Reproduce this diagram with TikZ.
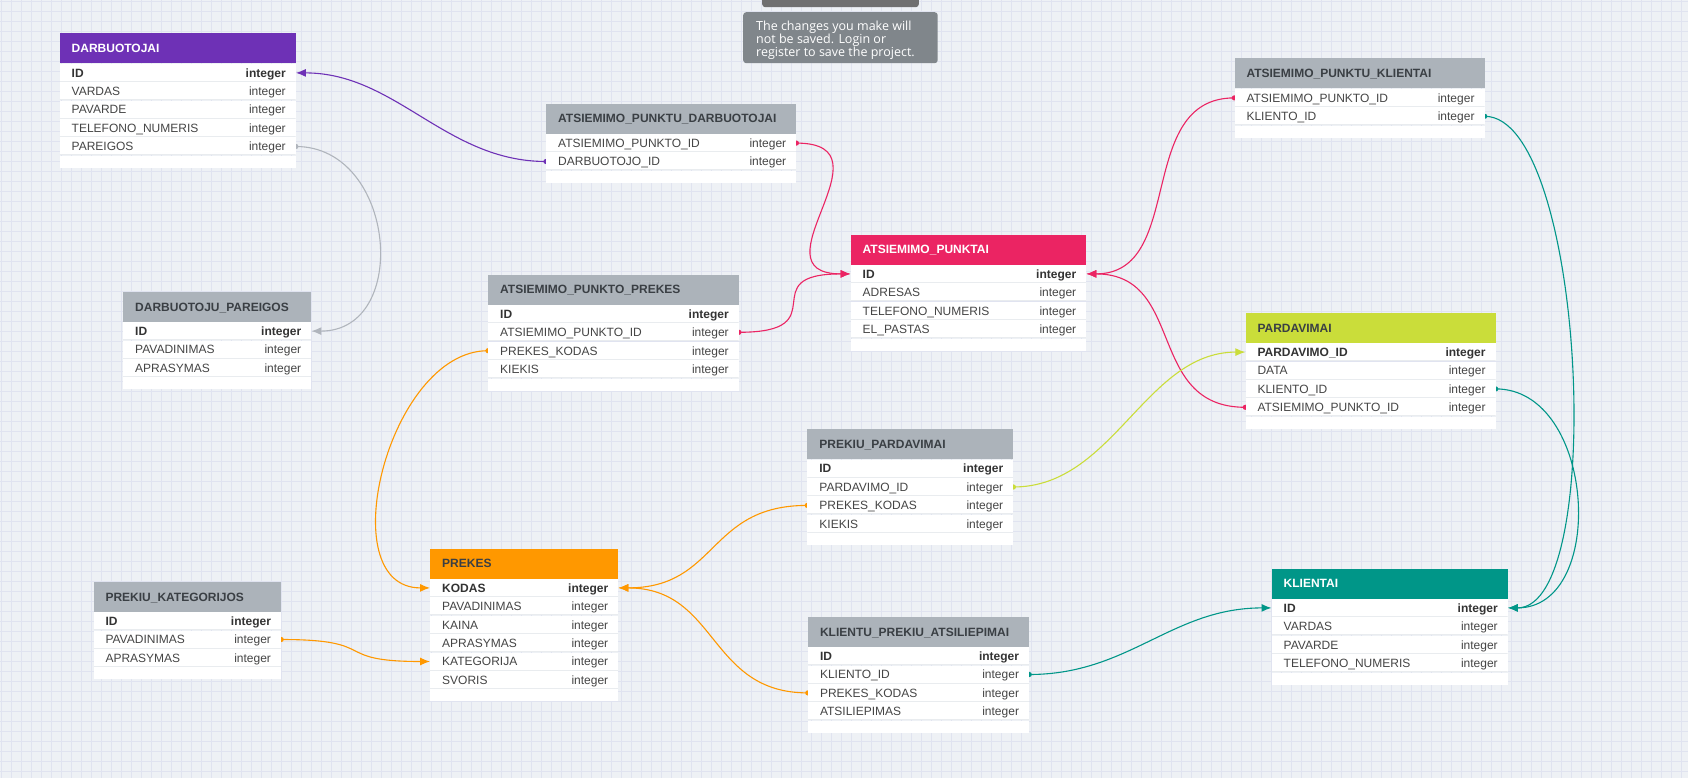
\documentclass[tikz,border=0pt]{standalone}
\usepackage{fontspec}
\setmainfont{Liberation Sans}
\newfontfamily\tipfont{Open Sans}
\usetikzlibrary{arrows.meta}
\definecolor{bgc}{HTML}{EEF1F5}
\definecolor{gridc}{HTML}{E0E3F0}
\definecolor{hgray}{HTML}{ACB3BA}
\definecolor{hpurple}{HTML}{6E31B6}
\definecolor{hpink}{HTML}{EB2463}
\definecolor{hlime}{HTML}{CADD3A}
\definecolor{horange}{HTML}{FF9800}
\definecolor{hteal}{HTML}{009688}
\definecolor{lgray}{HTML}{B0B5BC}
\definecolor{txt}{HTML}{454545}
\definecolor{txtb}{HTML}{333333}
\definecolor{htxt}{HTML}{3A3F44}
\definecolor{sepc}{HTML}{E9ECEF}
\definecolor{tipc}{HTML}{80868B}
\definecolor{tipbarc}{HTML}{707070}
\pgfdeclarelayer{gridlayer}
\pgfdeclarelayer{edgelayer}
\pgfsetlayers{gridlayer,edgelayer,main}
\tikzset{
  hdr/.style={anchor=north west, inner sep=0pt, minimum height=30pt,
    text height=10.3pt, text depth=1.7pt, font=\bfseries\fontsize{12}{14}\selectfont},
  rowbox/.style={anchor=north west, inner sep=0pt, minimum height=18pt,
    text height=10.3pt, text depth=1.7pt, fill=white, font=\fontsize{12}{14}\selectfont,
    path picture={\draw[sepc, line width=1pt]
      ([yshift=0.5pt]path picture bounding box.south west) --
      ([yshift=0.5pt]path picture bounding box.south east);}},
  endbox/.style={anchor=north west, inner sep=0pt, minimum height=12pt, fill=white},
  con/.style={draw=#1, line width=1.1pt, -{Latex[length=10pt,width=8pt]}},
  dot/.style={fill=#1},
  tiptext/.style={anchor=base west, inner sep=0pt, text=white,
    font=\tipfont\fontsize{12.5}{13}\selectfont}
}
% #1 id, #2 x, #3 y, #4 width, #5 header fill, #6 header text colour, #7 title, #8 rows
\newcommand\ertable[8]{%
  \node[hdr, fill=#5, text=#6] (#1-0) at (#2,#3) {\makebox[#4pt][l]{\hspace*{12pt}#7}};
  \foreach \nm/\isb [count=\i] in {#8} {%
    \pgfmathtruncatemacro\j{\i-1}%
    \ifnum\isb=1 \def\rf{\bfseries\color{txtb}}\else\def\rf{\color{txt}}\fi
    \node[rowbox] (#1-\i) at (#1-\j.south west)
      {\makebox[#4pt][l]{\hspace*{12pt}\rf\nm\hfill integer\hspace*{10pt}}};
    \xdef\lastrow{\i}%
  }
  \node[endbox] (#1-end) at (#1-\lastrow.south west) {\makebox[#4pt]{}};
}
\begin{document}
\begin{tikzpicture}[x=1pt,y=-1pt]
\useasboundingbox (0,0) rectangle (1688,778);
\begin{pgfonlayer}{gridlayer}
  \fill[bgc] (0,0) rectangle (1688,778);
  \foreach \x in {1.7,11.7,...,1688} \draw[gridc, line width=0.7pt] (\x,0) -- (\x,778);
  \foreach \y in {1.7,11.7,...,778} \draw[gridc, line width=0.7pt] (0,\y) -- (1688,\y);
\end{pgfonlayer}

% tooltip
\node[fill=tipbarc, rounded corners=3pt, anchor=north west, inner sep=0pt,
  minimum width=156.6pt, minimum height=12pt] (tipbar) at (762,-5) {};
\node[fill=tipc, rounded corners=3pt, anchor=north west, inner sep=0pt,
  minimum width=194.5pt, minimum height=51pt] (tip) at (743,12) {};
\node[tiptext] (tip1) at (756,31) {The changes you make will};
\node[tiptext] (tip2) at (756,44) {not be saved. Login or};
\node[tiptext] (tip3) at (756,57) {register to save the project.};

% tables
\ertable{d}{59.5}{33.3}{236}{hpurple}{white}{DARBUOTOJAI}
  {ID/1,VARDAS/0,PAVARDE/0,TELEFONO\_NUMERIS/0,PAREIGOS/0}
\ertable{apd}{546}{103.5}{250}{hgray}{htxt}{ATSIEMIMO\_PUNKTU\_DARBUOTOJAI}
  {ATSIEMIMO\_PUNKTO\_ID/0,DARBUOTOJO\_ID/0}
\ertable{apk}{1234.3}{58.3}{250}{hgray}{htxt}{ATSIEMIMO\_PUNKTU\_KLIENTAI}
  {ATSIEMIMO\_PUNKTO\_ID/0,KLIENTO\_ID/0}
\ertable{dp}{123}{291.5}{188}{hgray}{htxt}{DARBUOTOJU\_PAREIGOS}
  {ID/1,PAVADINIMAS/0,APRASYMAS/0}
\ertable{app}{488}{274.3}{250.5}{hgray}{htxt}{ATSIEMIMO\_PUNKTO\_PREKES}
  {ID/1,ATSIEMIMO\_PUNKTO\_ID/0,PREKES\_KODAS/0,KIEKIS/0}
\ertable{ap}{850.5}{234.3}{235.5}{hpink}{white}{ATSIEMIMO\_PUNKTAI}
  {ID/1,ADRESAS/0,TELEFONO\_NUMERIS/0,EL\_PASTAS/0}
\ertable{pa}{1245.3}{312.5}{250}{hlime}{htxt}{PARDAVIMAI}
  {PARDAVIMO\_ID/1,DATA/0,KLIENTO\_ID/0,ATSIEMIMO\_PUNKTO\_ID/0}
\ertable{pp}{807.2}{429}{205.8}{hgray}{htxt}{PREKIU\_PARDAVIMAI}
  {ID/1,PARDAVIMO\_ID/0,PREKES\_KODAS/0,KIEKIS/0}
\ertable{pk}{93.3}{581.5}{187.5}{hgray}{htxt}{PREKIU\_KATEGORIJOS}
  {ID/1,PAVADINIMAS/0,APRASYMAS/0}
\ertable{pr}{430}{548.3}{188}{horange}{htxt}{PREKES}
  {KODAS/1,PAVADINIMAS/0,KAINA/0,APRASYMAS/0,KATEGORIJA/0,SVORIS/0}
\ertable{kpa}{807.8}{616.5}{221}{hgray}{htxt}{KLIENTU\_PREKIU\_ATSILIEPIMAI}
  {ID/1,KLIENTO\_ID/0,PREKES\_KODAS/0,ATSILIEPIMAS/0}
\ertable{kl}{1271.5}{568.3}{236}{hteal}{white}{KLIENTAI}
  {ID/1,VARDAS/0,PAVARDE/0,TELEFONO\_NUMERIS/0}

% connectors
\begin{pgfonlayer}{edgelayer}
  \draw[con=hpurple] (apd-2.west) .. controls +(-100,0) and +(100,0) .. (d-1.east);
  \fill[dot=hpurple] (apd-2.west) circle (2.6pt);
  \draw[con=lgray] (d-5.east) .. controls +(100,0) and +(100,0) .. (dp-1.east);
  \fill[dot=lgray] (d-5.east) circle (2.6pt);
  \draw[con=hpink] (apd-1.east) .. controls +(100,0) and +(-100,0) .. (ap-1.west);
  \fill[dot=hpink] (apd-1.east) circle (2.6pt);
  \draw[con=hpink] (app-2.east) .. controls +(100,0) and +(-100,0) .. (ap-1.west);
  \fill[dot=hpink] (app-2.east) circle (2.6pt);
  \draw[con=hpink] (apk-1.west) .. controls +(-100,0) and +(100,0) .. (ap-1.east);
  \fill[dot=hpink] (apk-1.west) circle (2.6pt);
  \draw[con=hpink] (pa-4.west) .. controls +(-100,0) and +(100,0) .. (ap-1.east);
  \fill[dot=hpink] (pa-4.west) circle (2.6pt);
  \draw[con=hteal] (apk-2.east) .. controls +(100,0) and +(100,0) .. (kl-1.east);
  \fill[dot=hteal] (apk-2.east) circle (2.6pt);
  \draw[con=hteal] (pa-3.east) .. controls +(100,0) and +(100,0) .. (kl-1.east);
  \fill[dot=hteal] (pa-3.east) circle (2.6pt);
  \draw[con=horange] (app-3.west) .. controls +(-100,0) and +(-100,0) .. (pr-1.west);
  \fill[dot=horange] (app-3.west) circle (2.6pt);
  \draw[con=horange] (pp-3.west) .. controls +(-100,0) and +(100,0) .. (pr-1.east);
  \fill[dot=horange] (pp-3.west) circle (2.6pt);
  \draw[con=horange] (kpa-3.west) .. controls +(-100,0) and +(100,0) .. (pr-1.east);
  \fill[dot=horange] (kpa-3.west) circle (2.6pt);
  \draw[con=horange] (pk-2.east) .. controls +(100,0) and +(-100,0) .. (pr-5.west);
  \fill[dot=horange] (pk-2.east) circle (2.6pt);
  \draw[con=hlime] (pp-2.east) .. controls +(100,0) and +(-100,0) .. (pa-1.west);
  \fill[dot=hlime] (pp-2.east) circle (2.6pt);
  \draw[con=hteal] (kpa-2.east) .. controls +(100,0) and +(-100,0) .. (kl-1.west);
  \fill[dot=hteal] (kpa-2.east) circle (2.6pt);
\end{pgfonlayer}
\end{tikzpicture}
\end{document}
